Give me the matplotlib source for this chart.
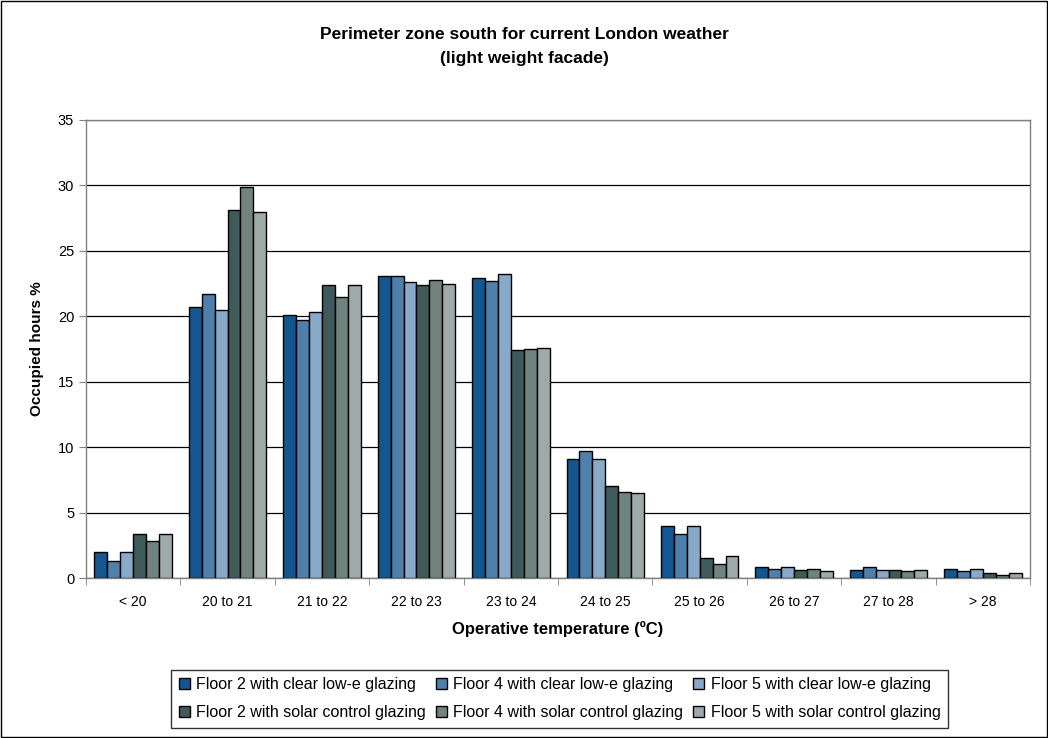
import numpy as np
import matplotlib.pyplot as plt
from matplotlib.patches import Rectangle

plt.rcParams['font.family'] = ['Liberation Sans', 'DejaVu Sans']

categories = ['< 20', '20 to 21', '21 to 22', '22 to 23', '23 to 24',
              '24 to 25', '25 to 26', '26 to 27', '27 to 28', '> 28']

series_names = ['Floor 2 with clear low-e glazing',
                'Floor 4 with clear low-e glazing',
                'Floor 5 with clear low-e glazing',
                'Floor 2 with solar control glazing',
                'Floor 4 with solar control glazing',
                'Floor 5 with solar control glazing']

floor2_clear = [2.0, 20.7, 20.1, 23.1, 22.9, 9.1, 4.0, 0.85, 0.6, 0.7]
floor4_clear = [1.3, 21.7, 19.7, 23.1, 22.7, 9.7, 3.4, 0.7, 0.85, 0.5]
floor5_clear = [2.0, 20.5, 20.3, 22.6, 23.2, 9.1, 4.0, 0.85, 0.6, 0.7]
floor2_solar = [3.4, 28.1, 22.4, 22.4, 17.4, 7.0, 1.55, 0.6, 0.6, 0.35]
floor4_solar = [2.8, 29.9, 21.5, 22.8, 17.5, 6.6, 1.1, 0.7, 0.5, 0.25]
floor5_solar = [3.4, 28.0, 22.4, 22.5, 17.6, 6.5, 1.65, 0.5, 0.6, 0.35]

series = [floor2_clear, floor4_clear, floor5_clear,
          floor2_solar, floor4_solar, floor5_solar]
colors = ['#14568f', '#4f7fab', '#88a9c7', '#3e5a5a', '#70837f', '#9eaaaa']

fig = plt.figure(figsize=(10.48, 7.38), dpi=100)
ax = fig.add_axes([0.082, 0.2168, 0.901, 0.6206])

x = np.arange(len(categories))
n = len(series)
group_w = 0.82
bw = group_w / n
handles = []
for i, (vals, c) in enumerate(zip(series, colors)):
    offs = -group_w / 2 + bw * (i + 0.5)
    h = ax.bar(x + offs, vals, bw, color=c, edgecolor='black', linewidth=1.0,
               label=series_names[i], zorder=3)
    handles.append(h)

ax.set_xlim(-0.5, len(categories) - 0.5)
ax.set_ylim(0, 35)
ax.set_yticks(range(0, 36, 5))
ax.yaxis.grid(True, color='black', linewidth=0.9, zorder=0)
ax.set_xticks(x)
ax.set_xticklabels(categories, fontsize=10)
ax.set_xticks(np.arange(-0.5, len(categories)), minor=True)
ax.tick_params(axis='x', which='major', length=0, pad=12)
ax.tick_params(axis='x', which='minor', length=5, direction='out', color='#808080')
ax.tick_params(axis='y', length=5, direction='out', color='#808080', labelsize=10.5)

for s in ax.spines.values():
    s.set_color('#808080')
    s.set_linewidth(1.0)

ax.set_ylabel('Occupied hours %', fontsize=11, fontweight='bold', labelpad=10)
ax.set_xlabel('Operative temperature (ºC)', fontsize=12, fontweight='bold', labelpad=9)

fig.text(0.5, 0.953, 'Perimeter zone south for current London weather',
         ha='center', va='center', fontsize=12.5, fontweight='bold')
fig.text(0.5, 0.921, '(light weight facade)',
         ha='center', va='center', fontsize=12.5, fontweight='bold')

# legend rows go left to right, so reorder for column-wise filling
order = [0, 3, 1, 4, 2, 5]
leg = fig.legend([handles[k] for k in order], [series_names[k] for k in order],
                 ncol=3, loc='center', bbox_to_anchor=(0.534, 0.053),
                 fontsize=11.5, frameon=True, fancybox=False,
                 handlelength=0.7, handleheight=0.7, handletextpad=0.4,
                 columnspacing=0.6, borderpad=0.5, labelspacing=0.8)
leg.get_frame().set_edgecolor('black')
leg.get_frame().set_linewidth(1.0)

fig.patches.append(Rectangle((0.001, 0.001), 0.998, 0.998, transform=fig.transFigure,
                             fill=False, edgecolor='black', linewidth=1.0))

fig.savefig('out.png', dpi=100)
